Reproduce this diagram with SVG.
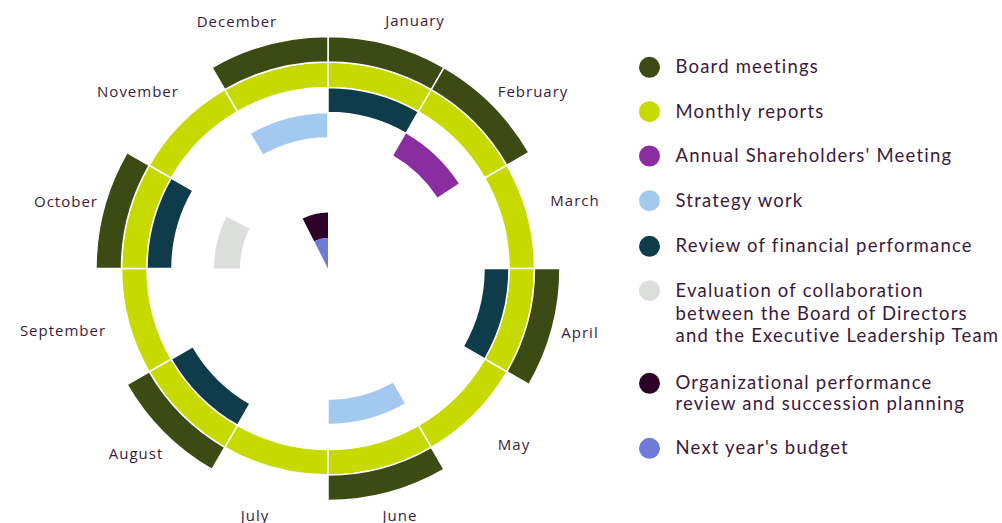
<svg xmlns="http://www.w3.org/2000/svg" xmlns:xlink="http://www.w3.org/1999/xlink" width="1002" height="523" viewBox="0 0 1002 523">
<style>
  .seg { stroke: #ffffff; stroke-width: 1.5; stroke-linejoin: miter; }
  .board { fill: #3c4a14; }
  .monthly { fill: #c6da00; }
  .fin { fill: #0f3c4a; }
  .strat { fill: #a4c9f1; }
  .agm { fill: #8a2da0; }
  .eval { fill: #dcdedb; }
  .org { fill: #2d0028; }
  .budget { fill: #6f7bd9; }
  .month { font-family: "Open Sans", "Noto Sans", sans-serif; font-size: 15px; letter-spacing: 1px; fill: #3b1a3b; text-anchor: middle; }
  .legend { font-family: Lato, "Open Sans", sans-serif; font-size: 18.5px; letter-spacing: 1.2px; fill: #3b1a3b; }
</style>
<defs>
  <path id="segD" d="M0,-232 A232,232 0 0 1 116,-200.918 L103.25,-178.834 A206.5,206.5 0 0 0 0,-206.5 Z"/>
  <path id="segG" d="M0,-206.5 A206.5,206.5 0 0 1 103.25,-178.834 L90.5,-156.751 A181,181 0 0 0 0,-181 Z"/>
  <path id="segT" d="M0,-181 A181,181 0 0 1 90.5,-156.751 L78,-135.1 A156,156 0 0 0 0,-156 Z"/>
  <path id="segL" d="M0,-156 A156,156 0 0 1 78,-135.1 L65.25,-113.016 A130.5,130.5 0 0 0 0,-130.5 Z"/>
  <path id="segL27" d="M0,-156 A156,156 0 0 1 70.823,-138.998 L59.246,-116.277 A130.5,130.5 0 0 0 0,-130.5 Z"/>
  <path id="segE27" d="M0,-114 A114,114 0 0 1 51.755,-101.575 L39.951,-78.409 A88,88 0 0 0 0,-88 Z"/>
  <path id="segO27" d="M0,-56 A56,56 0 0 1 25.423,-49.897 L13.847,-27.176 A30.5,30.5 0 0 0 0,-30.5 Z"/>
  <path id="segB27" d="M0,0 L0,-30.5 A30.5,30.5 0 0 1 13.847,-27.176 Z"/>
</defs>

<g id="wheel" transform="translate(328,268.5)">
  <g id="monthly-reports" class="seg monthly">
    <use xlink:href="#segG" transform="rotate(0)"/>
    <use xlink:href="#segG" transform="rotate(30)"/>
    <use xlink:href="#segG" transform="rotate(60)"/>
    <use xlink:href="#segG" transform="rotate(90)"/>
    <use xlink:href="#segG" transform="rotate(120)"/>
    <use xlink:href="#segG" transform="rotate(150)"/>
    <use xlink:href="#segG" transform="rotate(180)"/>
    <use xlink:href="#segG" transform="rotate(210)"/>
    <use xlink:href="#segG" transform="rotate(240)"/>
    <use xlink:href="#segG" transform="rotate(270)"/>
    <use xlink:href="#segG" transform="rotate(300)"/>
    <use xlink:href="#segG" transform="rotate(330)"/>
  </g>
  <g id="board-meetings" class="seg board">
    <use xlink:href="#segD" transform="rotate(0)"/>
    <use xlink:href="#segD" transform="rotate(30)"/>
    <use xlink:href="#segD" transform="rotate(90)"/>
    <use xlink:href="#segD" transform="rotate(150)"/>
    <use xlink:href="#segD" transform="rotate(210)"/>
    <use xlink:href="#segD" transform="rotate(270)"/>
    <use xlink:href="#segD" transform="rotate(330)"/>
  </g>
  <g id="financial-review" class="seg fin">
    <use xlink:href="#segT" transform="rotate(0)"/>
    <use xlink:href="#segT" transform="rotate(90)"/>
    <use xlink:href="#segT" transform="rotate(210)"/>
    <use xlink:href="#segT" transform="rotate(270)"/>
  </g>
  <g id="strategy-work" class="seg strat">
    <use xlink:href="#segL" transform="rotate(150)"/>
    <use xlink:href="#segL" transform="rotate(330)"/>
  </g>
  <g id="shareholders-meeting" class="agm">
    <use xlink:href="#segL27" transform="rotate(30)"/>
  </g>
  <g id="evaluation" class="eval">
    <use xlink:href="#segE27" transform="rotate(270)"/>
  </g>
  <g id="org-review" class="org">
    <use xlink:href="#segO27" transform="rotate(333)"/>
  </g>
  <g id="budget" class="budget">
    <use xlink:href="#segB27" transform="rotate(333)"/>
  </g>
</g>

<g id="month-labels" class="month">
  <text x="415" y="26">January</text>
  <text x="533" y="97">February</text>
  <text x="575" y="206">March</text>
  <text x="580" y="338">April</text>
  <text x="514" y="450">May</text>
  <text x="400" y="521">June</text>
  <text x="255" y="521">July</text>
  <text x="136" y="459">August</text>
  <text x="63" y="336">September</text>
  <text x="66" y="207">October</text>
  <text x="138" y="97">November</text>
  <text x="237" y="27">December</text>
</g>

<g id="legend" class="legend">
  <g id="legend-board"><circle cx="649.5" cy="67.3" r="10.5" class="board"/><text x="675.5" y="73.3">Board meetings</text></g>
  <g id="legend-monthly"><circle cx="649.5" cy="111.7" r="10.5" class="monthly"/><text x="675.5" y="117.7">Monthly reports</text></g>
  <g id="legend-agm"><circle cx="649.5" cy="156" r="10.5" class="agm"/><text x="675.5" y="162">Annual Shareholders' Meeting</text></g>
  <g id="legend-strategy"><circle cx="649.5" cy="200.7" r="10.5" class="strat"/><text x="675.5" y="206.7">Strategy work</text></g>
  <g id="legend-fin"><circle cx="649.5" cy="246.3" r="10.5" class="fin"/><text x="675.5" y="252.3">Review of financial performance</text></g>
  <g id="legend-eval"><circle cx="649.5" cy="290.7" r="10.5" class="eval"/>
    <text x="675.5" y="297"><tspan x="675.5" y="297">Evaluation of collaboration</tspan><tspan x="675.5" y="319.5">between the Board of Directors</tspan><tspan x="675.5" y="342">and the Executive Leadership Team</tspan></text></g>
  <g id="legend-org"><circle cx="649.5" cy="383.3" r="10.5" class="org"/>
    <text x="675.5" y="388.5"><tspan x="675.5" y="388.5">Organizational performance</tspan><tspan x="675.5" y="410">review and succession planning</tspan></text></g>
  <g id="legend-budget"><circle cx="649.5" cy="448.3" r="10.5" class="budget"/><text x="675.5" y="454.3">Next year's budget</text></g>
</g>
</svg>
